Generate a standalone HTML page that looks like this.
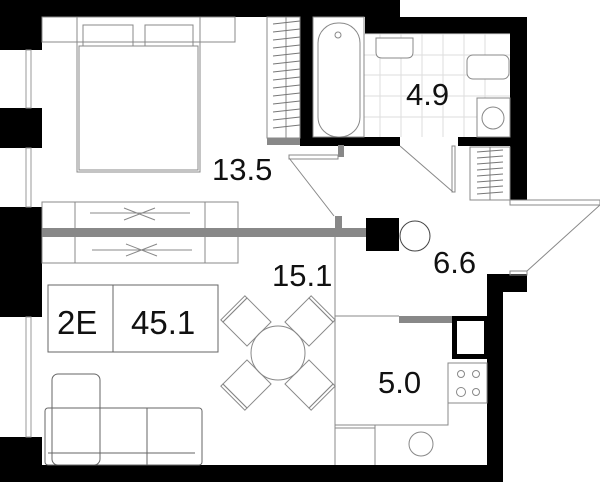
<!DOCTYPE html>
<html><head><style>body{margin:0;background:#fff}svg{display:block}text{font-family:"Liberation Sans",sans-serif;fill:#111}</style></head><body>
<svg width="600" height="482" viewBox="0 0 600 482" xmlns="http://www.w3.org/2000/svg">
<g fill="#000">
<rect x="0" y="0" width="400" height="17"/>
<rect x="365" y="17" width="162" height="17"/>
<rect x="510" y="17" width="17" height="183"/>
<rect x="300" y="17" width="13" height="128"/>
<rect x="300" y="137" width="100" height="9"/>
<rect x="458" y="137" width="52" height="9"/>
<rect x="0" y="0" width="42" height="50"/>
<rect x="0" y="108" width="42" height="40"/>
<rect x="0" y="207" width="42" height="110"/>
<rect x="0" y="437" width="42" height="45"/>
<rect x="0" y="465" width="503" height="17"/>
<rect x="487" y="274" width="16" height="208"/>
<rect x="487" y="274" width="40" height="18"/>
<rect x="366" y="218" width="33" height="33"/>
</g>
<rect x="454.5" y="318.5" width="32" height="38" fill="none" stroke="#000" stroke-width="5"/>
<g fill="none" stroke="#999" stroke-width="1">
<rect x="26" y="50" width="5" height="58"/><rect x="26" y="148" width="5" height="59"/><rect x="26" y="317" width="5" height="120"/>
</g>
<g fill="#888"><rect x="42" y="228" width="324" height="9"/><rect x="335" y="216" width="7" height="13"/><rect x="267" y="138" width="33" height="7"/><rect x="338" y="145" width="6" height="12"/><rect x="399" y="316" width="53" height="7"/></g>
<g fill="none" stroke="#888" stroke-width="1">
<rect x="42" y="17" width="193" height="25"/>
<rect x="77" y="17" width="123" height="155"/><rect x="79" y="46" width="119" height="124"/>
<rect x="83" y="25" width="50" height="21"/><rect x="145" y="25" width="48" height="21"/>
<rect x="267" y="17" width="33" height="121"/><line x1="286" y1="17" x2="286" y2="138"/>
<path d="M273 24L300 21M273 32L300 29M273 40L300 37M273 48L300 45M273 56L300 53M273 64L300 61M273 72L300 69M273 80L300 77M273 88L300 85M273 96L300 93M273 104L300 101M273 112L300 109M273 120L300 117M273 128L300 125" stroke="#777"/>
<rect x="42" y="202" width="196" height="61"/><line x1="75" y1="202" x2="75" y2="263"/><line x1="205" y1="202" x2="205" y2="263"/>
<path d="M90 213 H190 M124 208 L155 220 M124 220 L155 208 M92 250 H192 M126 244 L157 256 M126 256 L157 244"/>
<rect x="289" y="155" width="49" height="4"/><line x1="289" y1="158" x2="334" y2="216"/>
<line x1="400" y1="146" x2="453" y2="192"/><rect x="452" y="146" width="3" height="46"/>
<rect x="470" y="147" width="40" height="53"/><line x1="490" y1="147" x2="490" y2="200"/>
<path d="M477 152L503 150M477 158L503 156M477 164L503 162M477 170L503 168M477 176L503 174M477 182L503 180M477 188L503 186M477 194L503 192" stroke="#777"/>
<rect x="510" y="200" width="90" height="5"/><line x1="600" y1="205" x2="527" y2="271"/><rect x="510" y="271" width="17" height="4"/>
<path d="M313 34H510 M313 55H510 M313 75H510 M313 96H510 M313 117H510 M380 34V137 M401 34V137 M422 34V137 M443 34V137 M464 34V137 M485 34V137" stroke="#ddd"/>
<rect x="313" y="17" width="51" height="120" fill="#fff"/><rect x="318" y="23" width="42" height="114" rx="20"/>
<circle cx="338" cy="35" r="3"/>
<path d="M376 38 H413 V52 Q413 58 407 58 H382 Q376 58 376 52 Z" fill="#fff"/>
<rect x="467" y="55" width="42" height="24" rx="6" fill="#fff"/>
<rect x="477" y="98" width="33" height="39" fill="#fff"/><circle cx="493" cy="118" r="11"/>
<line x1="335" y1="236" x2="335" y2="465"/><line x1="335" y1="316" x2="399" y2="316"/>
<rect x="448" y="363" width="39" height="40"/>
<circle cx="461" cy="374" r="3.5"/><circle cx="476" cy="374" r="3.5"/><circle cx="461" cy="392" r="4.5"/><circle cx="476" cy="392" r="3.5"/>
<path d="M448 403 V425 H335 M375 425 V465 M335 428 H375"/><circle cx="421" cy="444" r="12"/>
<circle cx="415" cy="236" r="15" stroke="#444"/>
<rect x="48" y="285" width="170" height="67" stroke="#666"/><line x1="113" y1="285" x2="113" y2="352" stroke="#666"/>
<circle cx="278" cy="353" r="27"/>
<g transform="translate(247,322) rotate(45)"><rect x="-17" y="-17" width="34" height="34"/><rect x="-20" y="-17" width="3" height="34"/></g>
<g transform="translate(309,322) rotate(45)"><rect x="-17" y="-17" width="34" height="34"/><rect x="-17" y="-20" width="34" height="3"/></g>
<g transform="translate(247,384) rotate(45)"><rect x="-17" y="-17" width="34" height="34"/><rect x="-17" y="17" width="34" height="3"/></g>
<g transform="translate(309,384) rotate(45)"><rect x="-17" y="-17" width="34" height="34"/><rect x="17" y="-17" width="3" height="34"/></g>
<rect x="52" y="374" width="48" height="91" rx="6" stroke="#666"/>
<rect x="45" y="408" width="157" height="57" rx="3" stroke="#666"/>
<path d="M147 408V465 M48 453H195" stroke="#666"/>
</g>
<g font-size="31">
<text x="212" y="180">13.5</text><text x="406" y="105">4.9</text><text x="272" y="286">15.1</text><text x="433" y="273">6.6</text><text x="378" y="393">5.0</text>
<text x="57" y="334" font-size="33">2E</text><text x="131" y="334" font-size="33">45.1</text>
</g>
</svg>
</body></html>
